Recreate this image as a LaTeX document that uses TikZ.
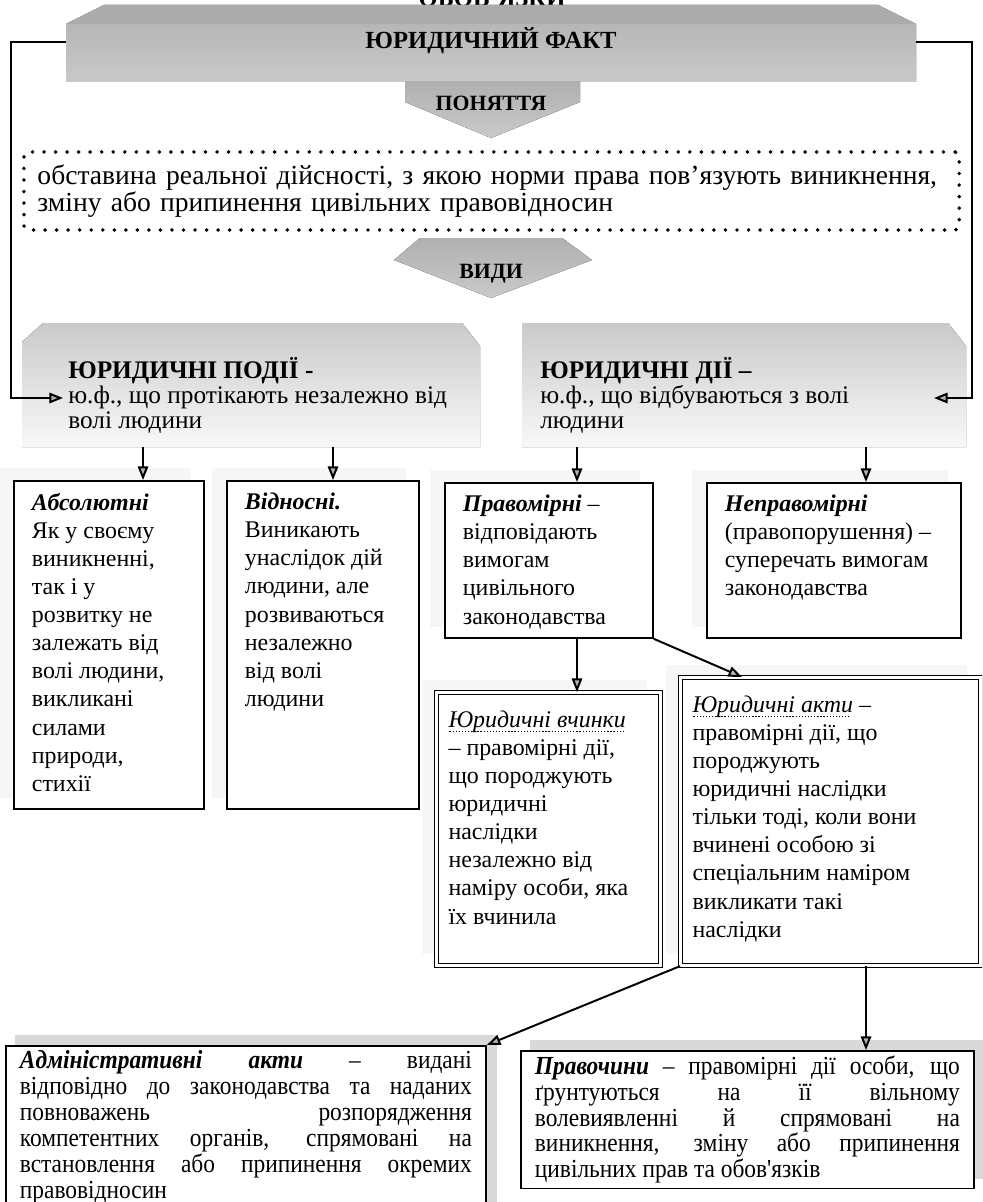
\documentclass[tikz,border=0pt]{standalone}
\usepackage{fontspec}
\setmainfont{Liberation Serif}
\newfontfamily\condfont[FakeStretch=0.9]{Liberation Serif}
\usetikzlibrary{arrows.meta, positioning, calc, backgrounds}

\newdimen\pxu \pxu=0.025cm
\newcommand{\cellbox}[3]{\parbox[c][#2\pxu][t]{#1\pxu}{\raggedright #3}}
\newcommand{\justbox}[3]{\parbox[c][#2\pxu][t]{#1\pxu}{#3}}
\newcommand{\dotul}[1]{\leavevmode\setbox0\hbox{#1}%
    \rlap{\raisebox{-3.5pt}{\hbox to\wd0{\leaders\hbox to 2.2pt{\hss\rule{0.9pt}{0.9pt}\hss}\hfill}}}\box0}
\newcommand{\lead}[1]{\textbf{\textit{#1}}}

\begin{document}
\begin{tikzpicture}[
    x=0.025cm, y=-0.025cm,
    font=\fontsize{17}{20}\selectfont,
    link/.style = {line width=1.4pt, draw=black},
    arr/.style = {link, -{Triangle[length=3.4mm, width=2.6mm, fill=gray!60]}},
    cell/.style = {
        rectangle, draw=black, line width=1.3pt, fill=white,
        anchor=north west, inner xsep=0.45cm, inner ysep=0.3cm
    },
    dblcell/.style = {
        cell, double=white, double distance=2.2pt, line width=0.8pt,
        inner xsep=0.3cm, inner ysep=0.45cm
    },
    wide/.style = {
        cell, inner xsep=0.35cm, inner ysep=0.12cm,
        font=\condfont\fontsize{18.5}{18.4}\selectfont
    },
    dotbox/.style = {
        rectangle, draw=black, anchor=north west, rounded corners=3pt,
        dash pattern=on 0pt off 8.2pt, line cap=round, line width=2.8pt,
        text width=22.7cm, minimum width=23.375cm, minimum height=1.95cm,
        align=left, inner xsep=0.325cm, font=\fontsize{19.6}{17.5}\selectfont
    },
    panel/.style = {
        anchor=north west, align=left, inner sep=0pt,
        font=\fontsize{18}{17.7}\selectfont
    },
    banner/.style = {top color=gray!62, bottom color=gray!42},
    band/.style = {top color=gray!42, bottom color=gray!5},
    haze/.style = {fill=gray!7},
    dark/.style = {fill=gray!30},
    title/.style = {font=\fontsize{17.5}{20}\selectfont\bfseries},
    tag/.style = {font=\fontsize{15.5}{17}\selectfont\bfseries},
]
\useasboundingbox (0,0) rectangle (982,1202);
\clip (0,0) rectangle (982,1202);

% Banner
\node[title, anchor=base] (prev) at (492,7) {ОБОВ'ЯЗКИ};
\fill[banner] (66,24) -- (104,5) -- (878,5) -- (916,24) -- (916,82) -- (66,82) -- cycle;
\fill[gray!66] (66,24) -- (104,5) -- (878,5) -- (916,24) -- cycle;
\node[title] (fact) at (491,41) {ЮРИДИЧНИЙ ФАКТ};
\coordinate (bnrW) at (66,42);
\coordinate (bnrE) at (916,42);

% Concept
\fill[banner] (405,82) -- (580,82) -- (580,102) -- (491,138) -- (405,102) -- cycle;
\node[tag] (concept) at (491,103) {ПОНЯТТЯ};
\node[dotbox] (defin) at (22,150)
    {обставина реальної дійсності, з якою норми права пов'язують виникнення,\\
     зміну або припинення цивільних правовідносин};

% Kinds
\fill[banner] (420,238) -- (562,238) -- (592,260) -- (491,298) -- (394,260) -- cycle;
\node[tag] (kinds) at (491,274) {ВИДИ};

\fill[band] (43,323) -- (462,323) -- (480,346) -- (480,447) -- (22,447) -- (22,342) -- cycle;
\fill[band] (522,323) -- (948,323) -- (966,346) -- (966,447) -- (522,447) -- cycle;
\node[panel] (podii) at (68,357)
    {{\bfseries ЮРИДИЧНІ ПОДІЇ -}\\ ю.ф., що протікають незалежно від\\ волі людини};
\node[panel] (dii) at (540,357)
    {{\bfseries ЮРИДИЧНІ ДІЇ –}\\ ю.ф., що відбуваються з волі\\ людини};
\coordinate (podin) at (63,398);
\coordinate (diiin) at (934,398);
\coordinate (d1) at (143,447);
\coordinate (d2) at (333,447);
\coordinate (d3) at (577,447);
\coordinate (d4) at (866,447);

% Boxes
\node[cell] (absol) at (13,480) {\cellbox{154}{304}{\lead{Абсолютні}\\ Як у своєму\\ виникненні,\\ так і у\\
    розвитку не\\ залежать від\\ волі людини,\\ викликані\\ силами\\ природи,\\ стихії}};
\node[cell] (vidn) at (226,480) {\cellbox{156}{304}{\lead{Відносні.}\\ Виникають\\ унаслідок дій\\
    людини, але\\ розвиваються\\ незалежно\\ від волі\\ людини}};
\node[cell] (pravom) at (444,482) {\cellbox{172}{131}{\lead{Правомірні} –\\ відповідають\\ вимогам\\
    цивільного\\ законодавства}};
\node[cell] (neprav) at (706,482) {\cellbox{218}{131}{\lead{Неправомірні}\\ (правопорушення) –\\
    суперечать вимогам\\ законодавства}};
\node[dblcell] (vchyn) at (436,692) {\cellbox{200}{237}{\dotul{\textit{Юридичні вчинки}}\\
    – правомірні дії,\\ що породжують\\ юридичні\\ наслідки\\ незалежно від\\ наміру особи, яка\\ їх вчинила}};
\node[dblcell] (akty) at (680,677) {\cellbox{276}{252}{\dotul{\textit{Юридичні акти}}\ –\\
    правомірні дії, що\\ породжують\\ юридичні наслідки\\ тільки тоді, коли вони\\ вчинені особою зі\\
    спеціальним наміром\\ викликати такі\\ наслідки}};
\node[wide] (admin) at (5,1045) {\justbox{452}{170}{\lead{Адміністративні акти} – видані\linebreak
    відповідно до законодавства та наданих\linebreak повноважень розпорядження\linebreak
    компетентних органів, спрямовані на\linebreak встановлення або припинення окремих\linebreak
    правовідносин}};
\node[wide] (pravoch) at (520,1050) {\justbox{425}{128}{\lead{Правочини} – правомірні дії особи, що\linebreak
    ґрунтуються на її вільному\linebreak волевиявленні й спрямовані на\linebreak
    виникнення, зміну або припинення\linebreak цивільних прав та обов'язків}};

% Shadows
\begin{scope}[on background layer]
\foreach \b in {absol, vidn, pravom, neprav, vchyn, akty}
    \fill[haze] ($(\b.north west)+(-14,-12)$) rectangle ($(\b.south east)+(-14,-12)$);
\foreach \b in {admin, pravoch}
    \fill[dark] ($(\b.north west)+(10,-10)$) rectangle ($(\b.south east)+(10,-10)$);
\end{scope}

% Arrows
\draw[arr] (bnrW) -- ++(-55,0) |- (podin);
\draw[arr] (bnrE) -- ++(56,0) |- (diiin);
\draw[arr] (d1) -- (d1 |- absol.north);
\draw[arr] (d2) -- (d2 |- vidn.north);
\draw[arr] (d3) -- (d3 |- pravom.north);
\draw[arr] (d4) -- (d4 |- neprav.north);
\draw[arr] (d3 |- pravom.south) -- (d3 |- vchyn.north);
\draw[arr] (pravom.south east) -- ($(akty.north west)+(62,0)$);
\draw[arr] (akty.south west) -- (admin.north east);
\draw[arr] (d4 |- akty.south) -- (d4 |- pravoch.north);

\end{tikzpicture}
\end{document}
